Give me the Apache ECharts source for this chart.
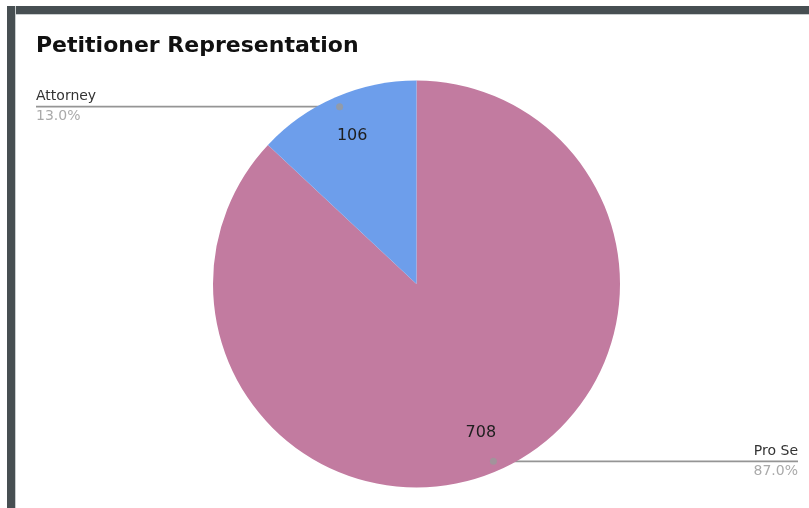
<!DOCTYPE html>
<html>
<head>
<meta charset="utf-8">
<script src="https://cdn.jsdelivr.net/npm/echarts@6/dist/echarts.min.js"></script>
<style>
  html, body { margin: 0; padding: 0; background: #ffffff; }
  #wrap { position: relative; width: 809px; height: 508px; overflow: hidden; background: #ffffff; }
  .band-top { position: absolute; left: 7px; top: 6px; width: 802px; height: 8px; background: #474f52; border-bottom: 1px solid #c9cdce; }
  .band-left { position: absolute; left: 7px; top: 6px; width: 8px; height: 502px; background: #474f52; border-right: 1px solid #c9cdce; }
  #chart { position: absolute; left: 0; top: 0; width: 809px; height: 508px; }
</style>
</head>
<body>
<div id="wrap">
  <div class="band-top"></div>
  <div class="band-left"></div>
  <div id="chart"></div>
</div>
<script>
// Petitioner representation counts
const categories = ['Pro Se', 'Attorney'];
const counts = [708, 106];
const sliceColors = ['#c27ba0', '#6d9eeb'];
const chartTitle = 'Petitioner Representation';

// Pie geometry (pixels)
const CX = 416.5;
const CY = 284;
const R = 203.5;
const LEADER_R = R * 0.95;
const LABEL_LEFT = 36;
const LABEL_RIGHT = 798;

const FONT = '"DejaVu Sans", "Liberation Sans", Arial, sans-serif';

const total = counts.reduce((a, b) => a + b, 0);
const pieData = categories.map((name, i) => ({ name: name, value: counts[i] }));

// Leader-line start points sit at the middle angle of each slice
let running = 0;
const leaderDots = counts.map(v => {
  const mid = running + v / 2;
  running += v;
  return [0.95, mid];
});

const chart = echarts.init(document.getElementById('chart'), null, { renderer: 'canvas' });

chart.setOption({
  animation: false,
  backgroundColor: 'transparent',
  title: {
    text: chartTitle,
    left: 36,
    top: 35,
    padding: 0,
    textStyle: { fontFamily: FONT, fontSize: 22, fontWeight: 'bold', color: '#111111' }
  },
  polar: { center: [CX, CY], radius: R },
  angleAxis: { type: 'value', min: 0, max: total, startAngle: 90, clockwise: true, show: false },
  radiusAxis: { type: 'value', min: 0, max: 1, show: false },
  series: [
    {
      // colored slices
      type: 'pie',
      center: [CX, CY],
      radius: R,
      startAngle: 90,
      clockwise: true,
      silent: true,
      itemStyle: { borderWidth: 0 },
      label: { show: false },
      labelLine: { show: false },
      color: sliceColors,
      data: pieData
    },
    {
      // value labels inside the slices
      type: 'pie',
      center: [CX, CY],
      radius: [R * 0.56, R],
      startAngle: 90,
      clockwise: true,
      silent: true,
      itemStyle: { color: 'rgba(0,0,0,0)', borderWidth: 0 },
      label: {
        show: true,
        position: 'inside',
        formatter: '{c}',
        fontFamily: FONT,
        fontSize: 16,
        color: '#1e1e1e'
      },
      labelLine: { show: false },
      data: pieData
    },
    {
      // name / percent labels with horizontal leader lines
      type: 'pie',
      center: [CX, CY],
      radius: LEADER_R,
      startAngle: 90,
      clockwise: true,
      silent: true,
      itemStyle: { color: 'rgba(0,0,0,0)', borderWidth: 0 },
      label: {
        show: true,
        position: 'outside',
        formatter: p => '{n|' + p.name + '}\n{p|' + p.percent.toFixed(1) + '%}',
        rich: {
          n: { fontFamily: FONT, fontSize: 14, lineHeight: 20, color: '#333333' },
          p: { fontFamily: FONT, fontSize: 14, lineHeight: 20, color: '#aaaaaa' }
        }
      },
      labelLine: { show: true, length: 6, length2: 6, lineStyle: { color: '#959595', width: 1.6 } },
      labelLayout: function (p) {
        const pts = p.labelLinePoints;
        if (!pts) return {};
        const sx = pts[0][0];
        const sy = pts[0][1];
        const onLeft = sx < CX;
        const ex = onLeft ? LABEL_LEFT : LABEL_RIGHT;
        return {
          x: ex,
          y: sy,
          align: onLeft ? 'left' : 'right',
          verticalAlign: 'middle',
          labelLinePoints: [[sx, sy], [sx, sy], [ex, sy]]
        };
      },
      data: pieData
    },
    {
      // small dots where the leader lines start
      type: 'scatter',
      coordinateSystem: 'polar',
      symbol: 'circle',
      symbolSize: 7,
      silent: true,
      z: 5,
      itemStyle: { color: '#9a9a9a' },
      data: leaderDots
    }
  ]
});
</script>
</body>
</html>
